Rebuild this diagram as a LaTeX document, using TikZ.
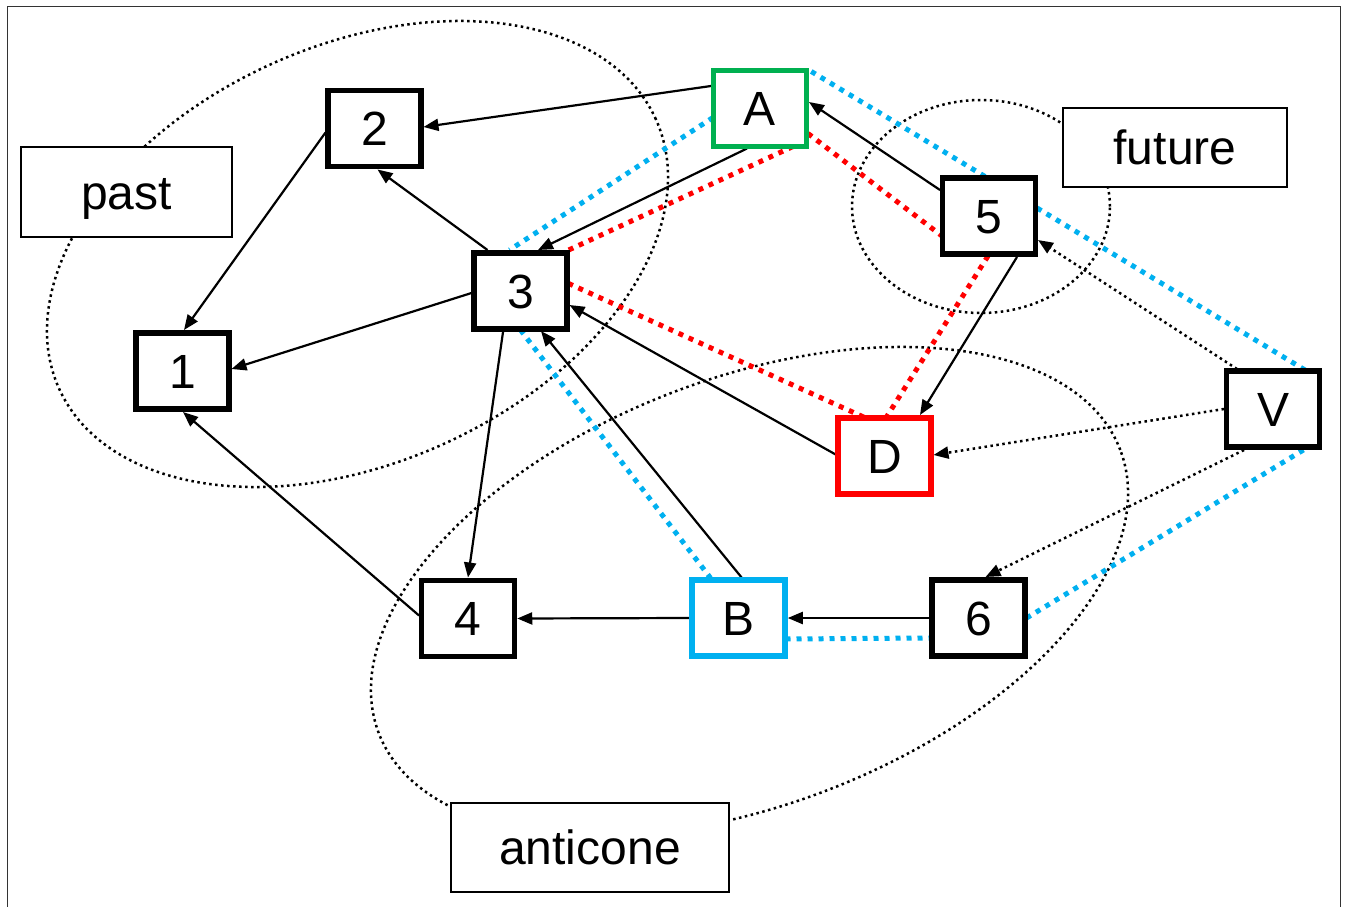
\documentclass[tikz,border=0pt]{standalone}
\usepackage{fontspec}
\setmainfont{Liberation Sans}
\usetikzlibrary{arrows.meta,calc}
\definecolor{nodegreen}{HTML}{00B050}
\definecolor{linkblue}{HTML}{00B0F0}
\definecolor{linkred}{HTML}{FF0000}
\pgfdeclarelayer{back}
\pgfdeclarelayer{mid}
\pgfsetlayers{back,mid,main}

\begin{document}
\begin{tikzpicture}[x=1pt,y=-1pt,
  vertex/.style={draw, line width=5.5pt, fill=white, minimum width=93pt,
    minimum height=76pt, inner sep=0pt, text height=34.5pt, text depth=0pt,
    font=\fontsize{48}{58}\selectfont},
  tag/.style={draw, line width=2.5pt, fill=white, inner sep=0pt,
    text height=34.5pt, text depth=0pt, font=\fontsize{48}{58}\selectfont},
  link/.style={line width=2.2pt, -{Triangle[length=15pt,width=12pt]}},
  hint/.style={line width=2.5pt, dash pattern=on 2.5pt off 3.5pt,
    -{Triangle[length=15pt,width=12pt]}},
  region/.style={line width=2.5pt, dash pattern=on 2.5pt off 3.5pt},
  trail/.style={line width=5pt, dash pattern=on 5pt off 6pt},
]
\useasboundingbox (0,0) rectangle (1345,907);

% vertices
\node[vertex] (n1) at (182.5,371) {1};
\node[vertex] (n2) at (374.5,128.5) {2};
\node[vertex] (n3) at (520.5,291) {3};
\node[vertex] (n4) at (468,618.5) {4};
\node[vertex] (n5) at (989,216) {5};
\node[vertex] (n6) at (978.5,618) {6};
\node[vertex, draw=nodegreen] (nA) at (760,108.5) {A};
\node[vertex, draw=linkblue] (nB) at (738.5,618) {B};
\node[vertex, draw=linkred] (nD) at (884.5,456) {D};
\node[vertex] (nV) at (1273,409) {V};

% region labels
\node[tag, minimum width=211pt, minimum height=90pt] (past) at (126.5,192) {past};
\node[tag, minimum width=224pt, minimum height=79pt] (future) at (1175,147.5) {future};
\node[tag, minimum width=278pt, minimum height=89pt] (anticone) at (590,847.5) {anticone};

\begin{pgfonlayer}{back}
  \fill[white] (0,0) rectangle (1345,907);
  \draw[line width=1.3pt, black!80] (7.5,915) -- (7.5,6.5) -- (1340.5,6.5) -- (1340.5,915);
  % past, future and anticone regions
  \draw[region, rotate around={24.3:(357.5,254)}] (357.5,254) ellipse [x radius=327.4pt, y radius=208.6pt];
  \draw[region] (981,206.5) ellipse [x radius=129pt, y radius=106.5pt];
  \draw[region, rotate around={20.9:(749.5,591.5)}] (749.5,591.5) ellipse [x radius=396.9pt, y radius=213.4pt];
\end{pgfonlayer}

\begin{pgfonlayer}{mid}
  % blue chain
  \draw[trail, linkblue] ($(nA)+(-47,9)$) -- ($(n3)+(-11,-41)$);
  \draw[trail, linkblue] ($(n3)+(0,39)$) -- ($(nB)+(-28,-40)$);
  \draw[trail, linkblue] ($(nB)+(47,21)$) -- ($(n6)+(-48,20)$);
  \draw[trail, linkblue] ($(n6)+(48,0)$) -- ($(nV)+(32,40)$);
  \draw[trail, linkblue] ($(nV)+(32,-39)$) -- ($(nA)+(48,-39)$);
  % red chain
  \draw[trail, linkred] ($(nA)+(33,38)$) -- ($(n3)+(46,-40)$);
  \draw[trail, linkred] ($(nA)+(48,25)$) -- ($(n5)+(-47,20)$);
  \draw[trail, linkred] ($(n5)+(-1,40)$) -- ($(nD)+(2,-39)$);
  \draw[trail, linkred] ($(nD)+(-21,-39)$) -- ($(n3)+(47,-8)$);
  % references
  \draw[link] ($(nA)+(-49,-22.5)$) -- ($(n2)+(49,-1.5)$);
  \draw[link] ($(n3)+(-33,-41)$) -- ($(n2)+(3,41)$);
  \draw[link] ($(n2)+(-49,4)$) -- ($(n1)+(1.5,-41)$);
  \draw[link] ($(n3)+(-49,2)$) -- ($(n1)+(49,-2)$);
  \draw[link] ($(n4)+(-49,-3)$) -- ($(n1)+(0.5,41)$);
  \draw[link] ($(nA)+(-13,40)$) -- ($(n3)+(17.5,-41)$);
  \draw[link] ($(n5)+(-49,-26)$) -- ($(nA)+(49,-6.5)$);
  \draw[link] ($(n5)+(28,41)$) -- ($(nD)+(35.5,-41)$);
  \draw[link] ($(nD)+(-48,-1)$) -- ($(n3)+(49,14)$);
  \draw[link] ($(nB)+(3.5,-40)$) -- ($(n3)+(20.5,40)$);
  \draw[link] ($(n3)+(-17.5,41)$) -- ($(n4)+(0,-41)$);
  \draw[link] (nB.west) -- (n4.east);
  \draw[link] (n6.west) -- (nB.east);
  % references from V
  \draw[hint] ($(nV)+(-36,-40)$) -- ($(n5)+(49,24)$);
  \draw[hint] ($(nV)+(-49,0)$) -- ($(nD)+(49,-1)$);
  \draw[hint] ($(nV)+(-29,41)$) -- ($(n6)+(7,-41)$);
\end{pgfonlayer}
\end{tikzpicture}
\end{document}
